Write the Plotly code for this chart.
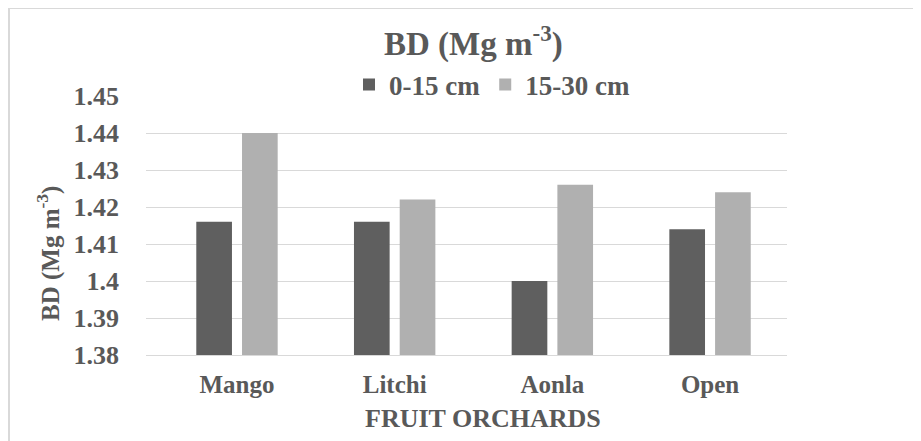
import plotly.graph_objects as go

categories = ["Mango", "Litchi", "Aonla", "Open"]
depth_0_15 = [1.416, 1.416, 1.400, 1.414]
depth_15_30 = [1.440, 1.422, 1.426, 1.424]
series_names = ["0-15 cm", "15-30 cm"]
y_ticks = [1.38, 1.39, 1.40, 1.41, 1.42, 1.43, 1.44, 1.45]
y_tick_labels = ["1.38", "1.39", "1.4", "1.41", "1.42", "1.43", "1.44", "1.45"]

OFF = 8  # page body margin
W, H = 921 - OFF, 441 - OFF
L, R, T, B = 146 - OFF, 787 - OFF, 96 - OFF, 355 - OFF
FONT = "Liberation Serif"
TXT = "#595959"

def px(x):
    return (x - OFF - L) / (R - L)

def py(y):
    return (B - (y - OFF)) / (B - T)

fig = go.Figure()
fig.add_trace(go.Bar(x=categories, y=depth_0_15, name=series_names[0],
                     marker=dict(color="#5f5f5f", line=dict(width=0))))
fig.add_trace(go.Bar(x=categories, y=depth_15_30, name=series_names[1],
                     marker=dict(color="#b0b0b0", line=dict(width=0))))

fig.update_layout(
    width=W, height=H,
    margin=dict(l=L, r=W - R, t=T, b=H - B, pad=0),
    paper_bgcolor="white", plot_bgcolor="white",
    barmode="group", bargap=0.42, bargroupgap=0.22,
    font=dict(family=FONT, color=TXT, size=26),
    showlegend=True,
    legend=dict(orientation="h", x=px(349), xanchor="left", y=py(85), yanchor="middle",
                font=dict(family=FONT, size=27, color=TXT, weight="bold"),
                itemwidth=30, traceorder="normal", bgcolor="rgba(0,0,0,0)"),
    xaxis=dict(range=[-0.577, 3.488], showgrid=False, showline=True,
               linecolor="#d9d9d9", linewidth=1, ticks="",
               tickfont=dict(family=FONT, size=25, color=TXT, weight="bold"),
               ticklabelstandoff=7),
    yaxis=dict(range=[1.38, 1.45], tickvals=y_ticks, ticktext=y_tick_labels,
               showgrid=True, gridcolor="#d9d9d9", gridwidth=1, zeroline=False,
               showline=False, ticks="",
               tickfont=dict(family=FONT, size=26, color=TXT, weight="bold"),
               ticklabelstandoff=26),
    annotations=[
        dict(text="<b>BD (Mg m<sup>-3</sup>)</b>", xref="paper", yref="paper",
             x=px(473), y=py(42), xanchor="center", yanchor="middle", showarrow=False,
             font=dict(family=FONT, size=33, color=TXT)),
        dict(text="<b>BD (Mg m<sup>-3</sup>)</b>", xref="paper", yref="paper",
             x=px(48), y=py(254), xanchor="center", yanchor="middle", showarrow=False,
             textangle=-90, font=dict(family=FONT, size=25, color=TXT)),
        dict(text="<b>FRUIT ORCHARDS</b>", xref="paper", yref="paper",
             x=px(483), y=py(418), xanchor="center", yanchor="middle", showarrow=False,
             font=dict(family=FONT, size=26, color=TXT)),
    ],
    shapes=[
        dict(type="line", xref="paper", yref="paper", x0=px(9), x1=px(921), y0=py(8), y1=py(8),
             line=dict(color="#d9d9d9", width=2)),
        dict(type="line", xref="paper", yref="paper", x0=px(9), x1=px(9), y0=py(8), y1=py(441),
             line=dict(color="#d9d9d9", width=2)),
    ],
)

fig.write_html("out.html")
